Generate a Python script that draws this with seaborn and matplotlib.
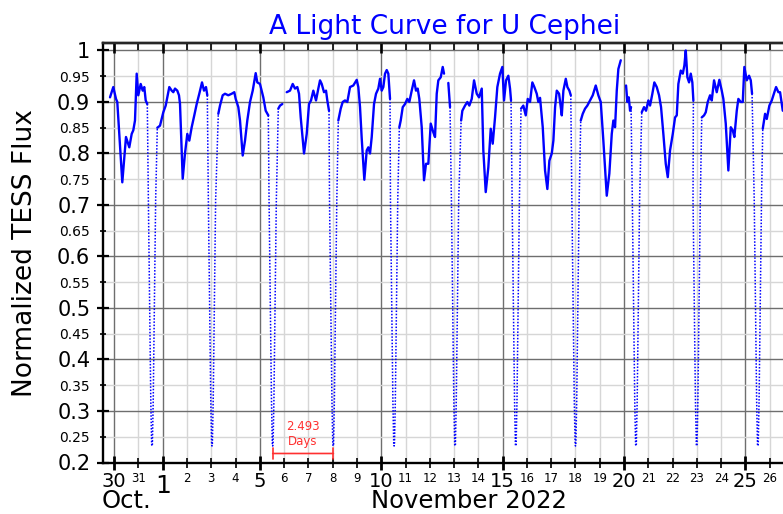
import numpy as np
import pandas as pd
import matplotlib
matplotlib.use("Agg")
import matplotlib.pyplot as plt
import matplotlib.transforms as mtransforms
from matplotlib.ticker import FixedLocator, FixedFormatter
import seaborn as sns

# ---------------- data ----------------
# time: day of November 2022 (0 = Oct 31, -1 = Oct 30); NaN = gap in the curve
time_days = [
    -1.17, -1.035, -0.923, -0.870, -0.664, -0.512, -0.376, -0.277, -0.211, -0.141,
    -0.071, -0.005, 0.094, 0.176, 0.242, 0.300, 0.366, np.nan,
    0.778, 0.889, 1.025, 1.124, 1.206, 1.272, 1.371, 1.437, 1.507, 1.601, 1.671,
    1.713, 1.824, 1.918, 2.013, 2.096, 2.194, 2.301, 2.400, 2.507, 2.619, 2.701,
    2.783, 2.837, np.nan,
    3.290, 3.360, 3.471, 3.566, 3.702, 3.842, 3.949, 4.006, 4.114, 4.184, 4.295,
    4.390, 4.484, 4.596, 4.707, 4.830, 4.896, 5.007, 5.143, 5.242, 5.349, np.nan,
    5.761, 5.831, 5.926, np.nan,
    6.107, 6.243, 6.354, 6.449, 6.544, 6.614, 6.684, 6.820, 6.931, 7.026, 7.108,
    7.203, 7.314, 7.409, 7.479, 7.549, 7.643, 7.726, 7.779, 7.849, np.nan,
    8.232, 8.331, 8.413, 8.508, 8.603, 8.714, 8.850, 8.990, 9.056, 9.126, 9.196,
    9.303, 9.402, 9.468, 9.538, 9.608, 9.703, 9.785, 9.880, 9.950, 10.020, 10.086,
    10.156, 10.226, 10.292, 10.362, np.nan,
    10.745, 10.802, 10.885, 10.979, 11.074, 11.157, 11.255, 11.350, 11.432, 11.502,
    11.568, 11.667, 11.762, 11.844, 11.939, 12.038, 12.145, 12.215, 12.285, 12.351,
    12.450, 12.532, 12.586, np.nan,
    12.763, 12.833, np.nan,
    13.290, 13.340, 13.451, 13.546, 13.628, 13.727, 13.822, 13.933, 14.027, 14.139,
    14.204, 14.303, 14.410, 14.509, 14.591, 14.686, 14.781, 14.892, 14.987, 15.057,
    15.140, 15.234, 15.304, 15.345, np.nan,
    15.757, 15.851, 15.951, 16.033, 16.128, 16.223, 16.305, 16.404, 16.470, 16.540,
    16.651, 16.746, 16.841, 16.924, 17.023, 17.089, 17.159, 17.229, 17.324, 17.394,
    17.435, 17.501, 17.600, 17.666, 17.748, 17.806, np.nan,
    18.216, 18.298, 18.393, 18.488, 18.599, 18.710, 18.834, 18.941, 19.040, 19.147,
    19.287, 19.394, 19.493, 19.559, 19.629, 19.699, 19.765, 19.864, np.nan,
    20.082, 20.136, 20.194, 20.247, 20.288, np.nan,
    20.728, 20.822, 20.905, 21.000, 21.070, 21.165, 21.247, 21.346, 21.441, 21.523,
    21.618, 21.717, 21.800, 21.894, 22.006, 22.100, 22.170, 22.236, 22.335, 22.418,
    22.484, 22.541, 22.607, 22.677, 22.747, 22.812, 22.854, np.nan,
    23.199, 23.294, 23.364, 23.446, 23.541, 23.611, 23.706, 23.817, 23.924, 24.023,
    24.089, 24.188, 24.295, 24.394, 24.476, 24.542, 24.641, 24.707, 24.806, 24.888,
    24.954, 25.053, 25.148, 25.218, 25.271, np.nan,
    25.712, 25.807, 25.877, 25.984, 26.083, 26.190, 26.260, 26.355, 26.425, 26.536,
]
flux = [
    0.909, 0.929, 0.906, 0.900, 0.744, 0.832, 0.812, 0.838, 0.845, 0.864,
    0.955, 0.913, 0.935, 0.922, 0.929, 0.903, 0.896, np.nan,
    0.850, 0.854, 0.880, 0.893, 0.913, 0.929, 0.922, 0.919, 0.926, 0.922, 0.913,
    0.896, 0.751, 0.800, 0.838, 0.825, 0.851, 0.874, 0.896, 0.916, 0.938, 0.922,
    0.929, 0.913, np.nan,
    0.877, 0.893, 0.913, 0.916, 0.913, 0.916, 0.919, 0.906, 0.890, 0.864, 0.796,
    0.825, 0.864, 0.900, 0.922, 0.956, 0.938, 0.935, 0.909, 0.883, 0.874, np.nan,
    0.887, 0.893, 0.896, np.nan,
    0.919, 0.922, 0.935, 0.926, 0.929, 0.916, 0.870, 0.800, 0.838, 0.896, 0.903,
    0.922, 0.903, 0.926, 0.942, 0.935, 0.919, 0.922, 0.903, 0.883, np.nan,
    0.864, 0.887, 0.900, 0.903, 0.900, 0.929, 0.932, 0.943, 0.929, 0.890, 0.829,
    0.749, 0.806, 0.812, 0.800, 0.832, 0.896, 0.916, 0.926, 0.945, 0.922, 0.929,
    0.955, 0.962, 0.955, 0.906, np.nan,
    0.851, 0.864, 0.890, 0.896, 0.906, 0.900, 0.922, 0.942, 0.922, 0.926,
    0.906, 0.851, 0.748, 0.780, 0.780, 0.858, 0.841, 0.832, 0.916, 0.942,
    0.948, 0.968, 0.955, np.nan,
    0.937, 0.890, np.nan,
    0.864, 0.883, 0.893, 0.900, 0.893, 0.906, 0.942, 0.916, 0.909, 0.926,
    0.806, 0.725, 0.773, 0.848, 0.819, 0.870, 0.929, 0.955, 0.968, 0.903,
    0.942, 0.951, 0.926, 0.903, np.nan,
    0.887, 0.893, 0.874, 0.906, 0.900, 0.938, 0.929, 0.916, 0.900, 0.908,
    0.851, 0.767, 0.731, 0.786, 0.800, 0.825, 0.890, 0.922, 0.916, 0.890,
    0.874, 0.922, 0.945, 0.929, 0.922, 0.913, np.nan,
    0.864, 0.877, 0.887, 0.893, 0.903, 0.913, 0.932, 0.913, 0.900, 0.825,
    0.718, 0.761, 0.838, 0.864, 0.851, 0.922, 0.964, 0.981, np.nan,
    0.932, 0.900, 0.909, 0.883, 0.890, np.nan,
    0.880, 0.890, 0.883, 0.903, 0.893, 0.916, 0.938, 0.929, 0.913, 0.890,
    0.838, 0.780, 0.754, 0.806, 0.838, 0.870, 0.874, 0.935, 0.961, 0.955,
    0.971, 1.000, 0.948, 0.938, 0.955, 0.938, 0.903, np.nan,
    0.870, 0.874, 0.880, 0.900, 0.913, 0.903, 0.942, 0.919, 0.943, 0.922,
    0.906, 0.858, 0.767, 0.851, 0.845, 0.832, 0.883, 0.906, 0.900, 0.900,
    0.968, 0.942, 0.951, 0.942, 0.916, np.nan,
    0.848, 0.877, 0.867, 0.893, 0.903, 0.919, 0.929, 0.919, 0.919, 0.883,
]

# primary eclipses (mid-eclipse times) and the eclipse profile read from the first one
eclipse_mid = [0.56, 3.03, 5.53, 8.02, 10.53, 13.04, 15.54, 18.00, 20.49, 22.99, 25.51]
profile_dt = [-0.15, -0.05, -0.015, 0.0, 0.015, 0.05, 0.15]
profile_flux = [0.71, 0.32, 0.235, 0.232, 0.235, 0.32, 0.71]

period_text = "2.493\nDays"
period_from, period_to = 5.53, 8.03

major_days = [-1, 1, 5, 10, 15, 20, 25]
major_labels = ["30", "", "5", "10", "15", "20", "25"]
minor_days = [0, 2, 3, 4, 6, 7, 8, 9, 11, 12, 13, 14, 16, 17, 18, 19, 21, 22, 23, 24, 26]
minor_labels = ["31", "2", "3", "4", "6", "7", "8", "9", "11", "12", "13", "14",
                "16", "17", "18", "19", "21", "22", "23", "24", "26"]
y_major = [0.2, 0.3, 0.4, 0.5, 0.6, 0.7, 0.8, 0.9, 1.0]
y_major_labels = ["0.2", "0.3", "0.4", "0.5", "0.6", "0.7", "0.8", "0.9", "1"]
y_minor = [0.25, 0.35, 0.45, 0.55, 0.65, 0.75, 0.85, 0.95]
y_minor_labels = ["0.25", "0.35", "0.45", "0.55", "0.65", "0.75", "0.85", "0.95"]

# ---------------- build tables ----------------
t_arr = np.array(time_days, dtype=float)
f_arr = np.array(flux, dtype=float)
seg = np.cumsum(np.isnan(t_arr))
ok = ~np.isnan(t_arr)
df_main = pd.DataFrame({"time": t_arr[ok], "flux": f_arr[ok], "segment": seg[ok]})

rows = []
for k, mid in enumerate(eclipse_mid):
    before = df_main[df_main.time < mid].iloc[-1]
    after = df_main[df_main.time > mid].iloc[0]
    rows.append((before.time, before.flux, k))
    for dt, fl in zip(profile_dt, profile_flux):
        rows.append((mid + dt, fl, k))
    rows.append((after.time, after.flux, k))
df_ecl = pd.DataFrame(rows, columns=["time", "flux", "eclipse"])

# ---------------- figure ----------------
sns.set_theme(style="white")
plt.rcParams["font.family"] = ["DejaVu Sans"]

W, H = 783, 514
fig = plt.figure(figsize=(W / 100, H / 100), dpi=100)
L, R, B, T = 102.5, 787.0, 462.5, 42.7
ax = fig.add_axes([L / W, 1 - B / H, (R - L) / W, (B - T) / H])

blue = "#0000ff"
red = "#ff3030"

sns.lineplot(data=df_main, x="time", y="flux", units="segment", estimator=None,
             sort=False, color=blue, linewidth=1.7, ax=ax, legend=False, zorder=3)
sns.lineplot(data=df_ecl, x="time", y="flux", units="eclipse", estimator=None,
             sort=False, color=blue, linewidth=1.1, linestyle=(0, (1, 1.1)),
             ax=ax, legend=False, zorder=3)

ax.set_xlim(-1.479, 26.71)
ax.set_ylim(0.2, 1.0151)

ax.xaxis.set_major_locator(FixedLocator(major_days))
ax.xaxis.set_major_formatter(FixedFormatter(major_labels))
ax.xaxis.set_minor_locator(FixedLocator(minor_days))
ax.xaxis.set_minor_formatter(FixedFormatter(minor_labels))
ax.yaxis.set_major_locator(FixedLocator(y_major))
ax.yaxis.set_major_formatter(FixedFormatter(y_major_labels))
ax.yaxis.set_minor_locator(FixedLocator(y_minor))
ax.yaxis.set_minor_formatter(FixedFormatter(y_minor_labels))

ax.tick_params(axis="x", which="major", direction="inout", length=10.5, width=2.0,
               labelsize=14, pad=1.5, colors="black", top=False, bottom=True)
ax.tick_params(axis="x", which="minor", direction="inout", length=6.5, width=1.2,
               labelsize=8.5, pad=3.5, colors="black", top=False, bottom=True)
ax.tick_params(axis="y", which="major", direction="inout", length=8.5, width=1.6,
               labelsize=15, pad=4.5, colors="black", left=True, right=False)
ax.tick_params(axis="y", which="minor", direction="inout", length=4.5, width=1.2,
               labelsize=10, pad=7.0, colors="black", left=True, right=False)

ax.grid(which="major", color="#6e6e6e", linewidth=1.0, zorder=0)
ax.grid(which="minor", color="#d6d6d6", linewidth=1.0, zorder=0)
ax.set_axisbelow(True)

for sp in ["left", "bottom", "top"]:
    ax.spines[sp].set_linewidth(1.7)
    ax.spines[sp].set_color("black")
ax.spines["right"].set_visible(False)

# Nov 1: black gridline, heavier tick
for tick in ax.xaxis.get_major_ticks():
    if abs(tick.get_loc() - 1) < 1e-9:
        tick.gridline.set_color("black")
        tick.gridline.set_linewidth(1.8)
        tick.tick1line.set_markersize(12)
        tick.tick1line.set_markeredgewidth(2.6)

# top ticks pointing inward (twin axes shares y; its own y axis stays hidden)
ax2 = ax.twiny()
ax2.set_xlim(ax.get_xlim())
ax2.xaxis.set_major_locator(FixedLocator(major_days))
ax2.xaxis.set_minor_locator(FixedLocator(minor_days))
ax2.xaxis.set_major_formatter(FixedFormatter([""] * len(major_days)))
ax2.xaxis.set_minor_formatter(FixedFormatter([""] * len(minor_days)))
ax2.tick_params(axis="x", which="major", direction="in", length=7, width=1.9,
                top=True, bottom=False, labeltop=False, colors="black")
ax2.tick_params(axis="x", which="minor", direction="in", length=4.8, width=1.2,
                top=True, bottom=False, labeltop=False, colors="black")
for sp in ["left", "bottom", "right"]:
    ax2.spines[sp].set_visible(False)
ax2.spines["top"].set_linewidth(1.7)
ax2.grid(False)
for tick in ax2.xaxis.get_major_ticks():
    if abs(tick.get_loc() - 1) < 1e-9:
        tick.tick2line.set_markersize(8)
        tick.tick2line.set_markeredgewidth(2.6)

# labels
ax.set_title("A Light Curve for U Cephei", color=blue, fontsize=19, pad=6)
ax.set_xlabel("")
ax.set_ylabel("Normalized TESS Flux", fontsize=19, color="black")
ax.yaxis.set_label_coords(-0.0944, 0.5)

trans = mtransforms.blended_transform_factory(ax.transData, ax.transAxes)
ax.text(1, -0.027, "1", transform=trans, ha="center", va="top", fontsize=18,
        color="black")
fig.text(126.7 / W, 1 - 489.0 / H, "Oct.", ha="center", va="top", fontsize=17.5,
         color="black")
fig.text(469 / W, 1 - 489.0 / H, "November 2022", ha="center", va="top",
         fontsize=17.5, color="black")

# period annotation
ax.annotate("", xy=(period_to, 0.2175), xytext=(period_from, 0.2175),
            arrowprops=dict(arrowstyle="|-|,widthA=0.35,widthB=0.35", color=red,
                            lw=1.2, shrinkA=0, shrinkB=0), zorder=4)
ax.text((period_from + period_to) / 2, 0.2553, period_text, color=red,
        fontsize=8.5, ha="center", va="center", zorder=4)

fig.savefig("out.png", dpi=100)
